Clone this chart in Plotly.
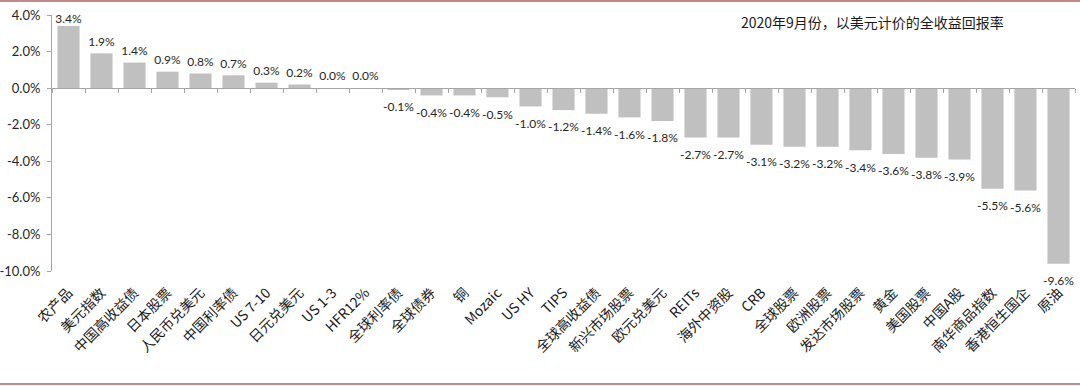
import plotly.graph_objects as go

categories = ["农产品", "美元指数", "中国高收益债", "日本股票", "人民币兑美元", "中国利率债",
              "US 7-10", "日元兑美元", "US 1-3", "HFR12%", "全球利率债", "全球债券", "铜",
              "Mozaic", "US HY", "TIPS", "全球高收益债", "新兴市场股票", "欧元兑美元", "REITs",
              "海外中资股", "CRB", "全球股票", "欧洲股票", "发达市场股票", "黄金", "美国股票",
              "中国A股", "南华商品指数", "香港恒生国企", "原油"]
returns_pct = [3.4, 1.9, 1.4, 0.9, 0.8, 0.7, 0.3, 0.2, 0.0, 0.0, -0.1, -0.4, -0.4, -0.5,
               -1.0, -1.2, -1.4, -1.6, -1.8, -2.7, -2.7, -3.1, -3.2, -3.2, -3.4, -3.6, -3.8,
               -3.9, -5.5, -5.6, -9.6]
y_ticks = [4, 2, 0, -2, -4, -6, -8, -10]
title_text = "2020年9月份，以美元计价的全收益回报率"

vals = [v / 100 for v in returns_pct]
tickvals = [t / 100 for t in y_ticks]
ticktext = [f"{t:.1f}%" for t in y_ticks]

ymin, ymax = -0.10, 0.04
zero_pos = (0 - ymin) / (ymax - ymin)

# label placement: outside end, kept inside the plot when too close to the top
positions = []
sizes = []
for v in vals:
    if v >= 0 and v > 0.8 * ymax:
        positions.append("top center"); sizes.append(0)
    elif v >= 0:
        positions.append("top center"); sizes.append(6)
    else:
        positions.append("bottom center"); sizes.append(18)

fig = go.Figure()
fig.add_trace(go.Bar(
    x=categories, y=vals,
    marker=dict(color="#c0c0c0", line=dict(width=0)),
    hoverinfo="skip",
    showlegend=False,
))
fig.add_trace(go.Scatter(
    x=categories, y=vals, xaxis="x2", mode="markers+text",
    text=[f"{v:.1f}%" for v in returns_pct],
    textposition=positions,
    textfont=dict(family="Lato, Noto Sans", size=12, color="#262626"),
    marker=dict(size=sizes, opacity=0), cliponaxis=False,
    hoverinfo="skip", showlegend=False,
))

fig.update_layout(
    width=1080, height=386,
    margin=dict(l=52, r=5, t=15, b=115),
    paper_bgcolor="white", plot_bgcolor="white",
    bargap=0.33, hovermode=False,
    font=dict(family="Noto Sans CJK SC", color="#262626"),
    xaxis=dict(
        type="category", range=[-0.5, len(categories) - 0.5],
        showline=False, ticks="", showgrid=False, zeroline=False,
        tickangle=-45, automargin=False, ticklabelstandoff=10,
        tickfont=dict(family="Noto Sans CJK SC", size=14, color="#1a1a1a"),
    ),
    xaxis2=dict(
        type="category", overlaying="x", matches="x", anchor="free", position=zero_pos,
        showline=True, linecolor="#a6a6a6", linewidth=1, automargin=False,
        ticks="outside", ticklen=4, tickcolor="#a6a6a6", tickson="boundaries",
        showticklabels=False, showgrid=False, zeroline=False,
    ),
    yaxis=dict(
        range=[ymin, ymax], tickvals=tickvals, ticktext=ticktext,
        showline=True, linecolor="#a6a6a6", linewidth=1, automargin=False,
        ticks="outside", ticklen=4, tickcolor="#a6a6a6", ticklabelstandoff=4,
        showgrid=False, zeroline=False,
        tickfont=dict(family="Lato, Noto Sans", size=13, color="#262626"),
    ),
    annotations=[dict(
        text=title_text, xref="paper", yref="paper", x=0.8016, y=0.973,
        xanchor="center", yanchor="middle", showarrow=False,
        font=dict(family="Noto Sans CJK SC", size=14, color="#1a1a1a"),
    )],
    shapes=[
        dict(type="line", xref="paper", yref="paper", x0=-0.06, x1=1.01, y0=1.0547, y1=1.0547,
             line=dict(color="#c08a8a", width=2)),
        dict(type="line", xref="paper", yref="paper", x0=-0.06, x1=1.01, y0=-0.441, y1=-0.441,
             line=dict(color="#c08a8a", width=2)),
    ],
)

fig.write_html("out.html", config={"displayModeBar": False},
               post_script="document.body.style.margin='0';")
